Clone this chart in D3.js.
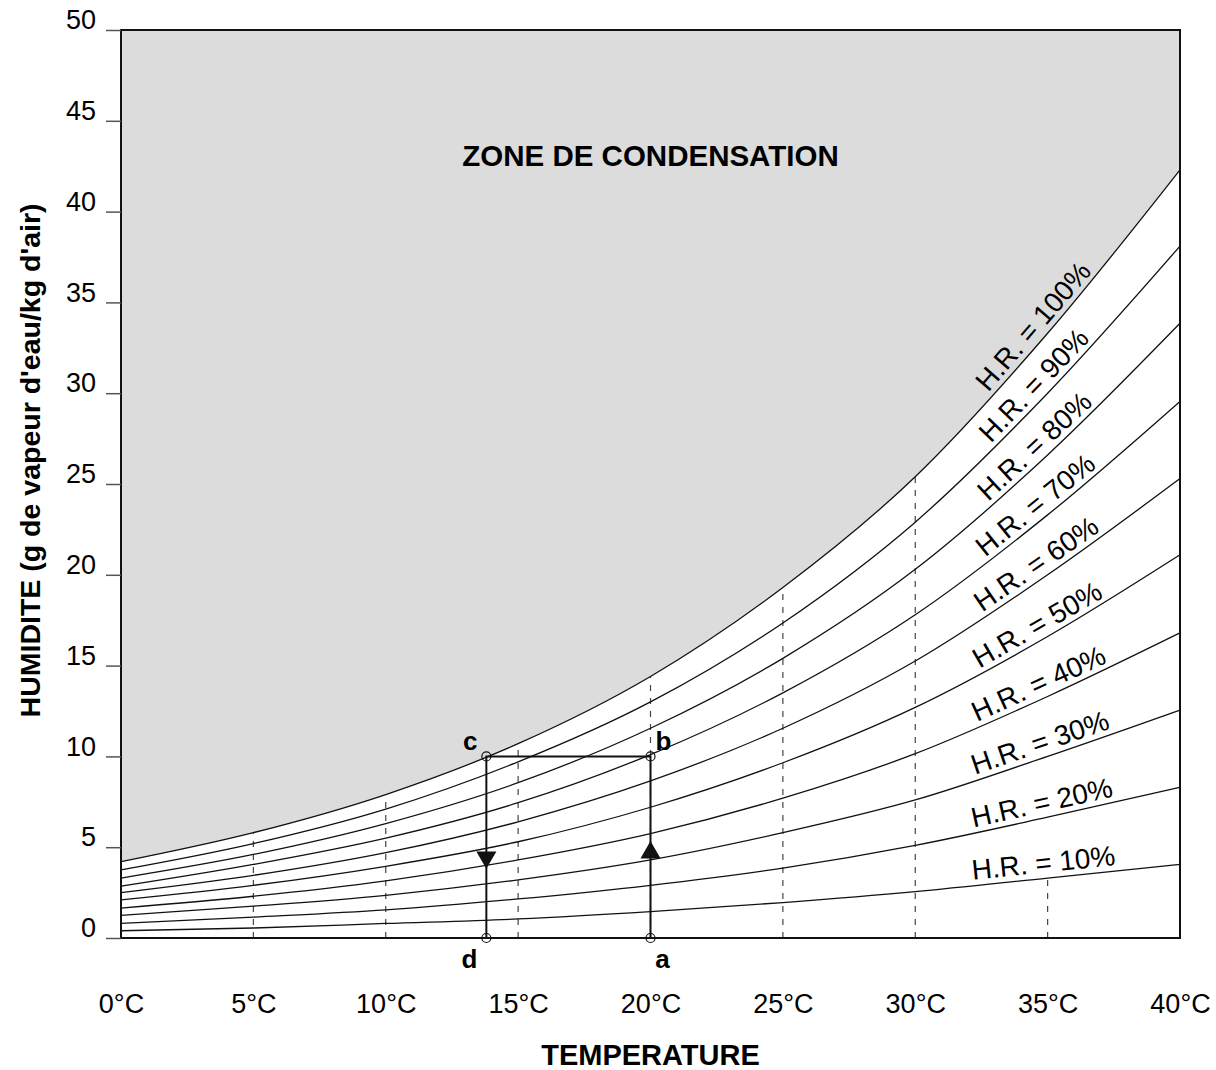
<!DOCTYPE html>
<meta charset="utf-8">
<script src="https://d3js.org/d3.v7.min.js"></script>
<style>
  body { margin: 0; background: #fff; }
  text { font-family: "Liberation Sans", Arial, Helvetica, sans-serif; }
</style>
<div id="chart"></div>
<script>
  // temperatures (°C) where the curves were read
  const temps = [0, 5, 10, 15, 20, 25, 30, 35, 40];

  // humidity (g/kg) for each relative humidity curve
  const hr100 = [4.2, 5.8, 7.9, 10.7, 14.4, 19.3, 25.4, 33.3, 42.3];
  const hr90 = [3.75, 5.2, 7.1, 9.7, 13.0, 17.35, 22.9, 30.0, 38.1];
  const hr80 = [3.3, 4.6, 6.3, 8.55, 11.55, 15.4, 20.3, 26.6, 33.85];
  const hr70 = [2.85, 4.05, 5.5, 7.45, 10.1, 13.5, 17.8, 23.3, 29.55];
  const hr60 = [2.5, 3.45, 4.7, 6.4, 8.65, 11.55, 15.25, 20.0, 25.3];
  const hr50 = [2.1, 2.9, 3.95, 5.3, 7.2, 9.65, 12.7, 16.6, 21.1];
  const hr40 = [1.65, 2.3, 3.15, 4.3, 5.75, 7.7, 10.15, 13.3, 16.8];
  const hr30 = [1.25, 1.75, 2.35, 3.2, 4.3, 5.8, 7.6, 10.0, 12.55];
  const hr20 = [0.8, 1.15, 1.55, 2.15, 2.9, 3.85, 5.1, 6.65, 8.3];
  const hr10 = [0.4, 0.55, 0.8, 1.05, 1.45, 1.95, 2.55, 3.3, 4.05];

  const hrLevels = [100, 90, 80, 70, 60, 50, 40, 30, 20, 10];
  const hrSeries = [hr100, hr90, hr80, hr70, hr60, hr50, hr40, hr30, hr20, hr10];

  // dashed guides: temperature and which curve they reach
  const dashTemps = [5, 10, 15, 20, 25, 30, 35];
  const dashReach = [100, 100, 100, 100, 100, 100, 10];

  // the a-b-c-d cycle
  const cycleNames = ["a", "b", "c", "d"];
  const cycleTemps = [20, 20, 13.8, 13.8];
  const cycleHum = [0, 10, 10, 0];

  const xTicks = [0, 5, 10, 15, 20, 25, 30, 35, 40];
  const yTicks = [0, 5, 10, 15, 20, 25, 30, 35, 40, 45, 50];

  const width = 1216, height = 1070;
  const margin = { left: 121, right: 36, top: 30, bottom: 132 };

  const svg = d3.select("#chart").append("svg")
    .attr("width", width)
    .attr("height", height);

  const x = d3.scaleLinear().domain([0, 40]).range([margin.left, width - margin.right]);
  const y = d3.scaleLinear().domain([0, 50]).range([height - margin.bottom, margin.top]);

  const pts = s => temps.map((t, i) => [t, s[i]]);

  // grey condensation zone above the 100% curve
  const area = d3.area()
    .x(d => x(d[0]))
    .y0(y(50))
    .y1(d => y(d[1]))
    .curve(d3.curveMonotoneX);

  svg.append("path")
    .datum(pts(hr100))
    .attr("d", area)
    .attr("fill", "#dcdcdc");

  svg.append("text")
    .attr("x", x(20))
    .attr("y", y(42.5))
    .attr("text-anchor", "middle")
    .style("font-size", "29.5px")
    .style("font-weight", "bold")
    .text("ZONE DE CONDENSATION");

  // dashed verticals
  svg.selectAll(".guide")
    .data(dashTemps)
    .join("line")
    .attr("class", "guide")
    .attr("x1", d => x(d))
    .attr("x2", d => x(d))
    .attr("y1", y(0))
    .attr("y2", (d, i) => y(hrSeries[hrLevels.indexOf(dashReach[i])][temps.indexOf(d)]))
    .attr("stroke", "#444")
    .attr("stroke-width", 1.2)
    .attr("stroke-dasharray", "6,7");

  // humidity curves
  const line = d3.line()
    .x(d => x(d[0]))
    .y(d => y(d[1]))
    .curve(d3.curveMonotoneX);

  const curves = svg.selectAll(".hr")
    .data(hrSeries)
    .join("path")
    .attr("class", "hr")
    .attr("d", d => line(pts(d)))
    .attr("fill", "none")
    .attr("stroke", "#111")
    .attr("stroke-width", 1.3);

  // labels along each curve
  const labelX = x(34.9);
  function pointAtX(node, px) {
    let lo = 0, hi = node.getTotalLength();
    for (let k = 0; k < 40; k++) {
      const mid = (lo + hi) / 2;
      if (node.getPointAtLength(mid).x < px) lo = mid; else hi = mid;
    }
    return lo;
  }
  curves.each(function (d, i) {
    const len = pointAtX(this, labelX);
    const p = this.getPointAtLength(len);
    const p1 = this.getPointAtLength(len - 8);
    const p2 = this.getPointAtLength(len + 8);
    const ang = Math.atan2(p2.y - p1.y, p2.x - p1.x) * 180 / Math.PI;
    svg.append("text")
      .attr("transform", `translate(${p.x},${p.y}) rotate(${ang})`)
      .attr("y", -6)
      .attr("text-anchor", "middle")
      .style("font-size", "28px")
      .attr("fill", "#000")
      .text("H.R. = " + hrLevels[i] + "%");
  });

  // cycle a -> b -> c -> d
  const cyc = cycleNames.map((n, i) => ({ n: n, t: cycleTemps[i], h: cycleHum[i] }));
  svg.append("path")
    .attr("d", d3.line().x(d => x(d.t)).y(d => y(d.h))(cyc))
    .attr("fill", "none")
    .attr("stroke", "#111")
    .attr("stroke-width", 2);

  const tri = d3.symbol().type(d3.symbolTriangle).size(175);
  svg.append("path")
    .attr("d", tri)
    .attr("transform", `translate(${x(20)},${y(4.7)})`)
    .attr("fill", "#111");
  svg.append("path")
    .attr("d", tri)
    .attr("transform", `translate(${x(13.8)},${y(4.45)}) rotate(180)`)
    .attr("fill", "#111");

  svg.selectAll(".pt")
    .data(cyc)
    .join("circle")
    .attr("class", "pt")
    .attr("cx", d => x(d.t))
    .attr("cy", d => y(d.h))
    .attr("r", 4.5)
    .attr("fill", "none")
    .attr("stroke", "#111")
    .attr("stroke-width", 1.2);

  const off = { a: [12, 30], b: [13, -6], c: [-16, -6], d: [-17, 30] };
  svg.selectAll(".ptl")
    .data(cyc)
    .join("text")
    .attr("class", "ptl")
    .attr("x", d => x(d.t) + off[d.n][0])
    .attr("y", d => y(d.h) + off[d.n][1])
    .attr("text-anchor", "middle")
    .style("font-size", "26px")
    .style("font-weight", "bold")
    .text(d => d.n);

  // frame
  svg.append("rect")
    .attr("x", x(0))
    .attr("y", y(50))
    .attr("width", x(40) - x(0))
    .attr("height", y(0) - y(50))
    .attr("fill", "none")
    .attr("stroke", "#111")
    .attr("stroke-width", 2);

  // axes
  const yAxis = svg.append("g")
    .attr("transform", `translate(${x(0)},0)`)
    .call(d3.axisLeft(y).tickValues(yTicks).tickSize(15).tickPadding(10));
  yAxis.select(".domain").remove();
  yAxis.selectAll("line").attr("stroke", "#555").attr("stroke-width", 1.5);
  yAxis.selectAll("text")
    .attr("dy", "-0.05em")
    .style("font-size", "27px")
    .attr("fill", "#000");

  const xAxis = svg.append("g")
    .attr("transform", `translate(0,${y(0)})`)
    .call(d3.axisBottom(x).tickValues(xTicks).tickSize(0).tickPadding(56).tickFormat(d => d + "°C"));
  xAxis.select(".domain").remove();
  xAxis.selectAll("text")
    .style("font-size", "27px")
    .attr("fill", "#000");

  svg.append("text")
    .attr("x", x(20))
    .attr("y", 1065)
    .attr("text-anchor", "middle")
    .style("font-size", "29px")
    .style("font-weight", "bold")
    .text("TEMPERATURE");

  svg.append("text")
    .attr("transform", `translate(40,${y(26.3)}) rotate(-90)`)
    .attr("text-anchor", "middle")
    .style("font-size", "28.5px")
    .style("font-weight", "bold")
    .text("HUMIDITE (g de vapeur d'eau/kg d'air)");
</script>
